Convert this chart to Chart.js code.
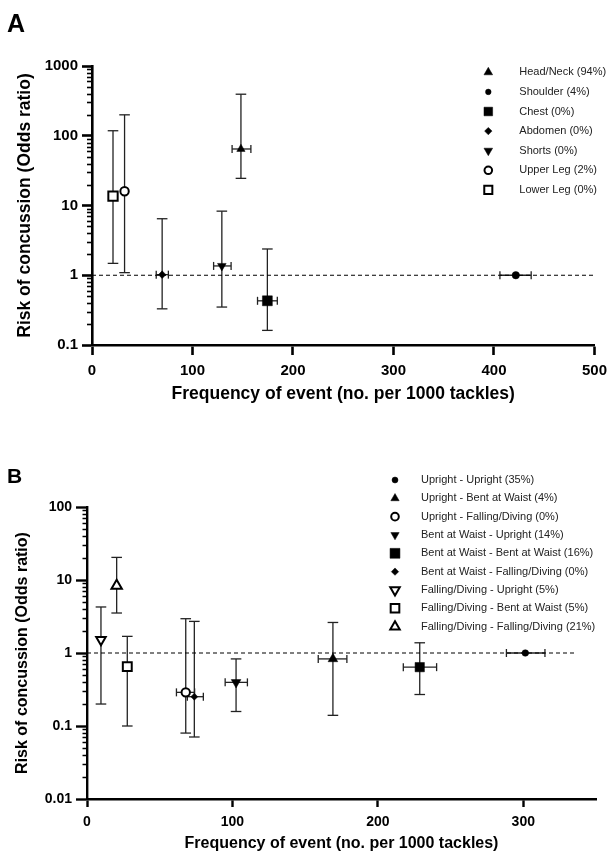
<!DOCTYPE html>
<html>
<head>
<meta charset="utf-8">
<title>Risk of concussion</title>
<script src="https://cdn.jsdelivr.net/npm/chart.js@4.4.1/dist/chart.umd.min.js"></script>
<style>
  html, body { margin: 0; padding: 0; background: #fff; width: 614px; height: 853px; overflow: hidden; }
  .panel { position: absolute; left: 0; width: 614px; }
  #panelA { top: 0; height: 420px; }
  #panelB { top: 420px; height: 433px; }
</style>
</head>
<body>
<div class="panel" id="panelA"><canvas id="chartA"></canvas></div>
<div class="panel" id="panelB"><canvas id="chartB"></canvas></div>

<script>
// ---- Panel A: tackled body part ----
const labelsA = ['Head/Neck (94%)', 'Shoulder (4%)', 'Chest (0%)', 'Abdomen (0%)', 'Shorts (0%)', 'Upper Leg (2%)', 'Lower Leg (0%)'];
const freqA = [148.2, 421.7, 174.5, 69.8, 129.2, 32.4, 20.9];
const freqLowA = [139.4, 405.9, 164.7, 63.9, 121, null, null];
const freqHighA = [158.1, 437, 184.4, 76, 138.4, null, null];
const oddsA = [64.6, 1.0, 0.43, 1.02, 1.36, 16, 13.6];
const oddsLowA = [24.5, null, 0.162, 0.33, 0.35, 1.09, 1.48];
const oddsHighA = [394, null, 2.38, 6.46, 8.3, 199.5, 118];
const xTicksA = [0, 100, 200, 300, 400, 500];
const yTicksA = [0.1, 1, 10, 100, 1000];
const refXA = [0, 500];

// ---- Panel B: body position of tackler - ball carrier ----
const labelsB = ['Upright - Upright (35%)', 'Upright - Bent at Waist (4%)', 'Upright - Falling/Diving (0%)',
  'Bent at Waist - Upright (14%)', 'Bent at Waist - Bent at Waist (16%)', 'Bent at Waist - Falling/Diving (0%)',
  'Falling/Diving - Upright (5%)', 'Falling/Diving - Bent at Waist (5%)', 'Falling/Diving - Falling/Diving (21%)'];
const freqB = [301.4, 169.1, 67.9, 102.5, 228.8, 73.8, 9.6, 27.7, 20.4];
const freqLowB = [288.4, 159, 61.5, 95, 217.5, 69, null, null, null];
const freqHighB = [314.9, 178.7, 74, 110.3, 240.4, 80, null, null, null];
const oddsB = [1.0, 0.83, 0.289, 0.396, 0.64, 0.252, 1.52, 0.65, 8.36];
const oddsLowB = [null, 0.14, 0.08, 0.158, 0.27, 0.0707, 0.2, 0.1, 3.53];
const oddsHighB = [null, 2.62, 2.95, 0.83, 1.38, 2.71, 4.27, 1.69, 20.4];
const xTicksB = [0, 100, 200, 300];
const yTicksB = [0.01, 0.1, 1, 10, 100];
const refXB = [0, 335.5];

const refOdds = 1;

// marker looks: [pointStyle, rotation, open?, radius on plot, radius in legend]
const markersA = [
  ['triangle', 0, false, 4.8, 5], ['circle', 0, false, 3.7, 2.8], ['rect', 0, false, 7, 6.1],
  ['rectRot', 0, false, 3.8, 3.7], ['triangle', 180, false, 5, 5], ['circle', 0, true, 4.2, 3.8],
  ['rect', 0, true, 6.6, 5.7]
];
const markersB = [
  ['circle', 0, false, 3.3, 3], ['triangle', 0, false, 5.6, 4.8], ['circle', 0, true, 4.2, 3.8],
  ['triangle', 180, false, 5.6, 4.8], ['rect', 0, false, 6.6, 7], ['rectRot', 0, false, 3.5, 3.7],
  ['triangle', 180, true, 5.5, 5.5], ['rect', 0, true, 6.3, 6.1], ['triangle', 0, true, 6, 5.5]
];

const FONT = "'Liberation Sans', Arial, Helvetica, sans-serif";

function logTicks(decades) {
  const out = [];
  decades.forEach((v, i) => {
    out.push({ value: v, major: true });
    if (i < decades.length - 1) {
      for (let m = 2; m <= 9; m++) out.push({ value: v * m, major: false });
    }
  });
  return out;
}

// error bars drawn under the markers
const errorBars = {
  id: 'errorBars',
  beforeDatasetsDraw(chart, args, opts) {
    const { ctx } = chart;
    const xs = chart.scales.x, ys = chart.scales.y;
    ctx.save();
    ctx.strokeStyle = '#222';
    ctx.lineWidth = 1.3;
    const seg = (x1, y1, x2, y2) => { ctx.beginPath(); ctx.moveTo(x1, y1); ctx.lineTo(x2, y2); ctx.stroke(); };
    chart.data.datasets.forEach(ds => {
      const e = ds.err;
      if (!e) return;
      const px = xs.getPixelForValue(ds.data[0].x);
      const py = ys.getPixelForValue(ds.data[0].y);
      if (e.yLow != null) {
        const y1 = ys.getPixelForValue(e.yLow), y2 = ys.getPixelForValue(e.yHigh);
        seg(px, y1, px, y2);
        seg(px - opts.capY, y1, px + opts.capY, y1);
        seg(px - opts.capY, y2, px + opts.capY, y2);
      }
      if (e.xLow != null) {
        const x1 = xs.getPixelForValue(e.xLow), x2 = xs.getPixelForValue(e.xHigh);
        seg(x1, py, x2, py);
        seg(x1, py - opts.capX, x1, py + opts.capX);
        seg(x2, py - opts.capX, x2, py + opts.capX);
      }
    });
    ctx.restore();
  }
};

// minor log ticks, legend and panel letter
const decor = {
  id: 'decor',
  afterDraw(chart, args, opts) {
    const { ctx, chartArea } = chart;
    const ys = chart.scales.y;
    ctx.save();
    ctx.strokeStyle = '#000';
    ctx.lineWidth = opts.minorWidth;
    ys.ticks.forEach(t => {
      if (t.major) return;
      const y = Math.round(ys.getPixelForValue(t.value)) + 0.5;
      ctx.beginPath();
      ctx.moveTo(chartArea.left, y);
      ctx.lineTo(chartArea.left - opts.minorLen, y);
      ctx.stroke();
    });

    // legend
    const drawPoint = Chart.helpers.drawPoint;
    chart.data.datasets.forEach((ds, i) => {
      if (!ds.marker) return;
      const m = ds.marker;
      const y = opts.legY + i * opts.legDy;
      ctx.fillStyle = m[2] ? '#fff' : '#000';
      ctx.strokeStyle = '#000';
      ctx.lineWidth = m[2] ? 2 : 0.5;
      drawPoint(ctx, { pointStyle: m[0], rotation: m[1], radius: m[4], borderWidth: ctx.lineWidth }, opts.legX, y);
      ctx.fillStyle = '#222';
      ctx.font = '11px ' + FONT;
      ctx.textBaseline = 'middle';
      ctx.textAlign = 'left';
      ctx.fillText(ds.label, opts.legTextX, y);
    });

    ctx.fillStyle = '#000';
    ctx.font = 'bold ' + opts.letterSize + 'px ' + FONT;
    ctx.textBaseline = 'alphabetic';
    ctx.fillText(opts.letter, opts.letterX, opts.letterY);
    ctx.restore();
  }
};

function makeChart(id, p) {
  const datasets = p.labels.map((lab, i) => {
    const m = p.markers[i];
    return {
      label: lab,
      data: [{ x: p.freq[i], y: p.odds[i] }],
      marker: m,
      err: { xLow: p.freqLow[i], xHigh: p.freqHigh[i], yLow: p.oddsLow[i], yHigh: p.oddsHigh[i] },
      pointStyle: m[0],
      rotation: m[1],
      radius: m[3],
      backgroundColor: m[2] ? '#fff' : '#000',
      borderColor: '#000',
      borderWidth: m[2] ? 2 : 0.5,
      showLine: false,
      order: 1
    };
  });
  datasets.push({
    label: 'ref',
    data: p.refX.map(x => ({ x: x, y: refOdds })),
    showLine: true,
    borderColor: '#000',
    borderWidth: 1.2,
    borderDash: [4, 3],
    pointRadius: 0,
    order: 10
  });

  return new Chart(document.getElementById(id), {
    type: 'scatter',
    data: { datasets },
    options: {
      responsive: true,
      maintainAspectRatio: false,
      animation: false,
      devicePixelRatio: 1,
      layout: { padding: p.padding },
      plugins: {
        legend: { display: false },
        tooltip: { enabled: false },
        errorBars: { capX: 4, capY: 5.3 },
        decor: p.decor
      },
      scales: {
        x: {
          type: 'linear',
          min: p.xTicks[0],
          max: p.xMax,
          afterBuildTicks: s => { s.ticks = p.xTicks.map(v => ({ value: v })); },
          afterFit: s => { s.height = p.xHeight; },
          border: { display: true, color: '#000', width: p.axisWidth },
          grid: { display: true, drawOnChartArea: false, drawTicks: true, tickLength: p.xTickLen, tickWidth: p.axisWidth, tickColor: '#000' },
          ticks: { color: '#000', padding: p.xTickPad, maxRotation: 0, autoSkip: false, font: { family: FONT, size: p.tickSize, weight: 'bold' } },
          title: { display: true, text: 'Frequency of event (no. per 1000 tackles)', color: '#000', padding: { top: 0, bottom: p.xTitlePad }, font: { family: FONT, size: p.titleSize, weight: 'bold' } }
        },
        y: {
          type: 'logarithmic',
          min: p.yTicks[0],
          max: p.yTicks[p.yTicks.length - 1],
          afterBuildTicks: s => { s.ticks = logTicks(p.yTicks); },
          afterFit: s => { s.width = p.yWidth; },
          border: { display: true, color: '#000', width: p.axisWidth },
          grid: {
            display: true, drawOnChartArea: false, drawTicks: true, tickLength: p.yTickLen, tickWidth: p.axisWidth,
            tickColor: c => (c.tick && c.tick.major) ? '#000' : 'rgba(0,0,0,0)'
          },
          ticks: {
            color: '#000', padding: p.yTickPad, autoSkip: false,
            font: { family: FONT, size: p.tickSize, weight: 'bold' },
            callback: v => p.yTicks.includes(v) ? String(v) : ''
          },
          title: { display: true, text: 'Risk of concussion (Odds ratio)', color: '#000', padding: { top: p.yTitlePad, bottom: 0 }, font: { family: FONT, size: p.titleSize, weight: 'bold' } }
        }
      }
    },
    plugins: [errorBars, decor]
  });
}

makeChart('chartA', {
  labels: labelsA, freq: freqA, freqLow: freqLowA, freqHigh: freqHighA,
  odds: oddsA, oddsLow: oddsLowA, oddsHigh: oddsHighA,
  xTicks: xTicksA, xMax: 500, yTicks: yTicksA, refX: refXA, markers: markersA,
  padding: { left: 0, top: 66, right: 13, bottom: 13 },
  yWidth: 92, xHeight: 62, axisWidth: 2.6,
  xTickLen: 10, yTickLen: 10, xTickPad: 7, yTickPad: 4,
  tickSize: 15, titleSize: 17.5, xTitlePad: 2, yTitlePad: 15,
  decor: { minorLen: 5, minorWidth: 1.6, legX: 488.3, legTextX: 519.3, legY: 72.3, legDy: 19.6,
           letter: 'A', letterSize: 25, letterX: 7, letterY: 31.7 }
});

makeChart('chartB', {
  labels: labelsB, freq: freqB, freqLow: freqLowB, freqHigh: freqHighB,
  odds: oddsB, oddsLow: oddsLowB, oddsHigh: oddsHighB,
  xTicks: xTicksB, xMax: 350, yTicks: yTicksB, refX: refXB, markers: markersB,
  padding: { left: 0, top: 87, right: 18, bottom: 0 },
  yWidth: 87, xHeight: 54, axisWidth: 2.4,
  xTickLen: 8, yTickLen: 11, xTickPad: 7, yTickPad: 4,
  tickSize: 14, titleSize: 16, xTitlePad: 0, yTitlePad: 13,
  decor: { minorLen: 4.5, minorWidth: 1.5, legX: 395, legTextX: 421, legY: 60, legDy: 18.33,
           letter: 'B', letterSize: 21, letterX: 7, letterY: 63.3 }
});
</script>
</body>
</html>
